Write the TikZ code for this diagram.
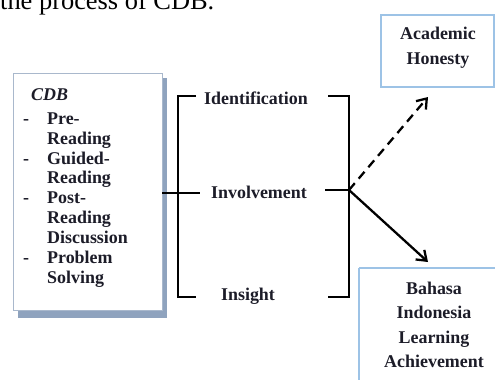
\documentclass[tikz,border=0pt]{standalone}
\usepackage{fontspec}
\setmainfont{Liberation Serif}
\usetikzlibrary{arrows.meta}
\definecolor{boxblue}{HTML}{9DC3E6}
\definecolor{cdbborder}{HTML}{A9B8CC}
\definecolor{cdbshadow}{HTML}{8FA3BE}
\definecolor{txt}{HTML}{1C1C28}
\tikzset{
  lbl/.style={font=\fontsize{18}{20}\selectfont\bfseries, text=txt, inner sep=0pt},
  brk/.style={line width=1.9pt, black},
  arr/.style={line width=2.3pt, black, -{Straight Barb[length=9pt,width=13pt,line width=2.3pt]}},
}
\begin{document}
\begin{tikzpicture}[x=1bp,y=-1bp]
\useasboundingbox (0,0) rectangle (495,379);
\clip (0,0) rectangle (495,379);
% partial heading line
\node[anchor=base west, inner sep=0pt, font=\fontsize{26.5}{28}\selectfont] (head) at (0,9) {the process of CDB.};
% CDB box with shadow
\fill[cdbshadow] (18,78) rectangle (167,318);
\fill[white] (13,73) rectangle (162,310);
\draw[cdbborder, line width=1pt] (13,73) rectangle (162,310);
\node[lbl, anchor=base west] (cdb) at (31,100) {\textit{CDB}};
\node[lbl, anchor=north west, align=left] (items) at (23,110) {%
\begin{tabular}{@{}l@{\hspace{18bp}}l@{}}
- & Pre-\\ & Reading\\ - & Guided-\\ & Reading\\ - & Post-\\ & Reading\\ & Discussion\\ - & Problem\\ & Solving
\end{tabular}};
\coordinate (boxR) at (162,193);
% middle labels
\node[lbl] (ident) at (256,98) {Identification};
\node[lbl] (invol) at (259,192) {Involvement};
\node[lbl] (insig) at (248,296) {Insight};
% left bracket
\draw[brk] (196,96) -- (178,96) -- (178,297) -- (196,297);
\coordinate (lbm) at (200,193);
\draw[brk] (boxR) -- (lbm);
% right bracket
\coordinate (j) at (349,190);
\draw[brk] (328,96) -- (349,96) -- (349,297) -- (328,297);
\draw[brk] (325,190) -- (j);
% outcome boxes
\draw[boxblue, line width=1.2pt] (381,15) rectangle (494,87);
\node[lbl, align=center, font=\fontsize{18}{25}\selectfont\bfseries] (acad) at (438,48) {Academic\\Honesty};
\draw[boxblue, line width=1.2pt] (359,268) -- (359,385) (359,268) -- (500,268);
\node[lbl, align=center, font=\fontsize{18}{24.5}\selectfont\bfseries] (bahasa) at (434,325) {Bahasa\\Indonesia\\Learning\\Achievement};
% arrows
\coordinate (acadIn) at (428,97);
\coordinate (bahIn) at (428,262);
\draw[arr, dashed, dash pattern=on 9pt off 6pt] (j) -- (acadIn);
\draw[arr] (j) -- (bahIn);
\end{tikzpicture}
\end{document}
